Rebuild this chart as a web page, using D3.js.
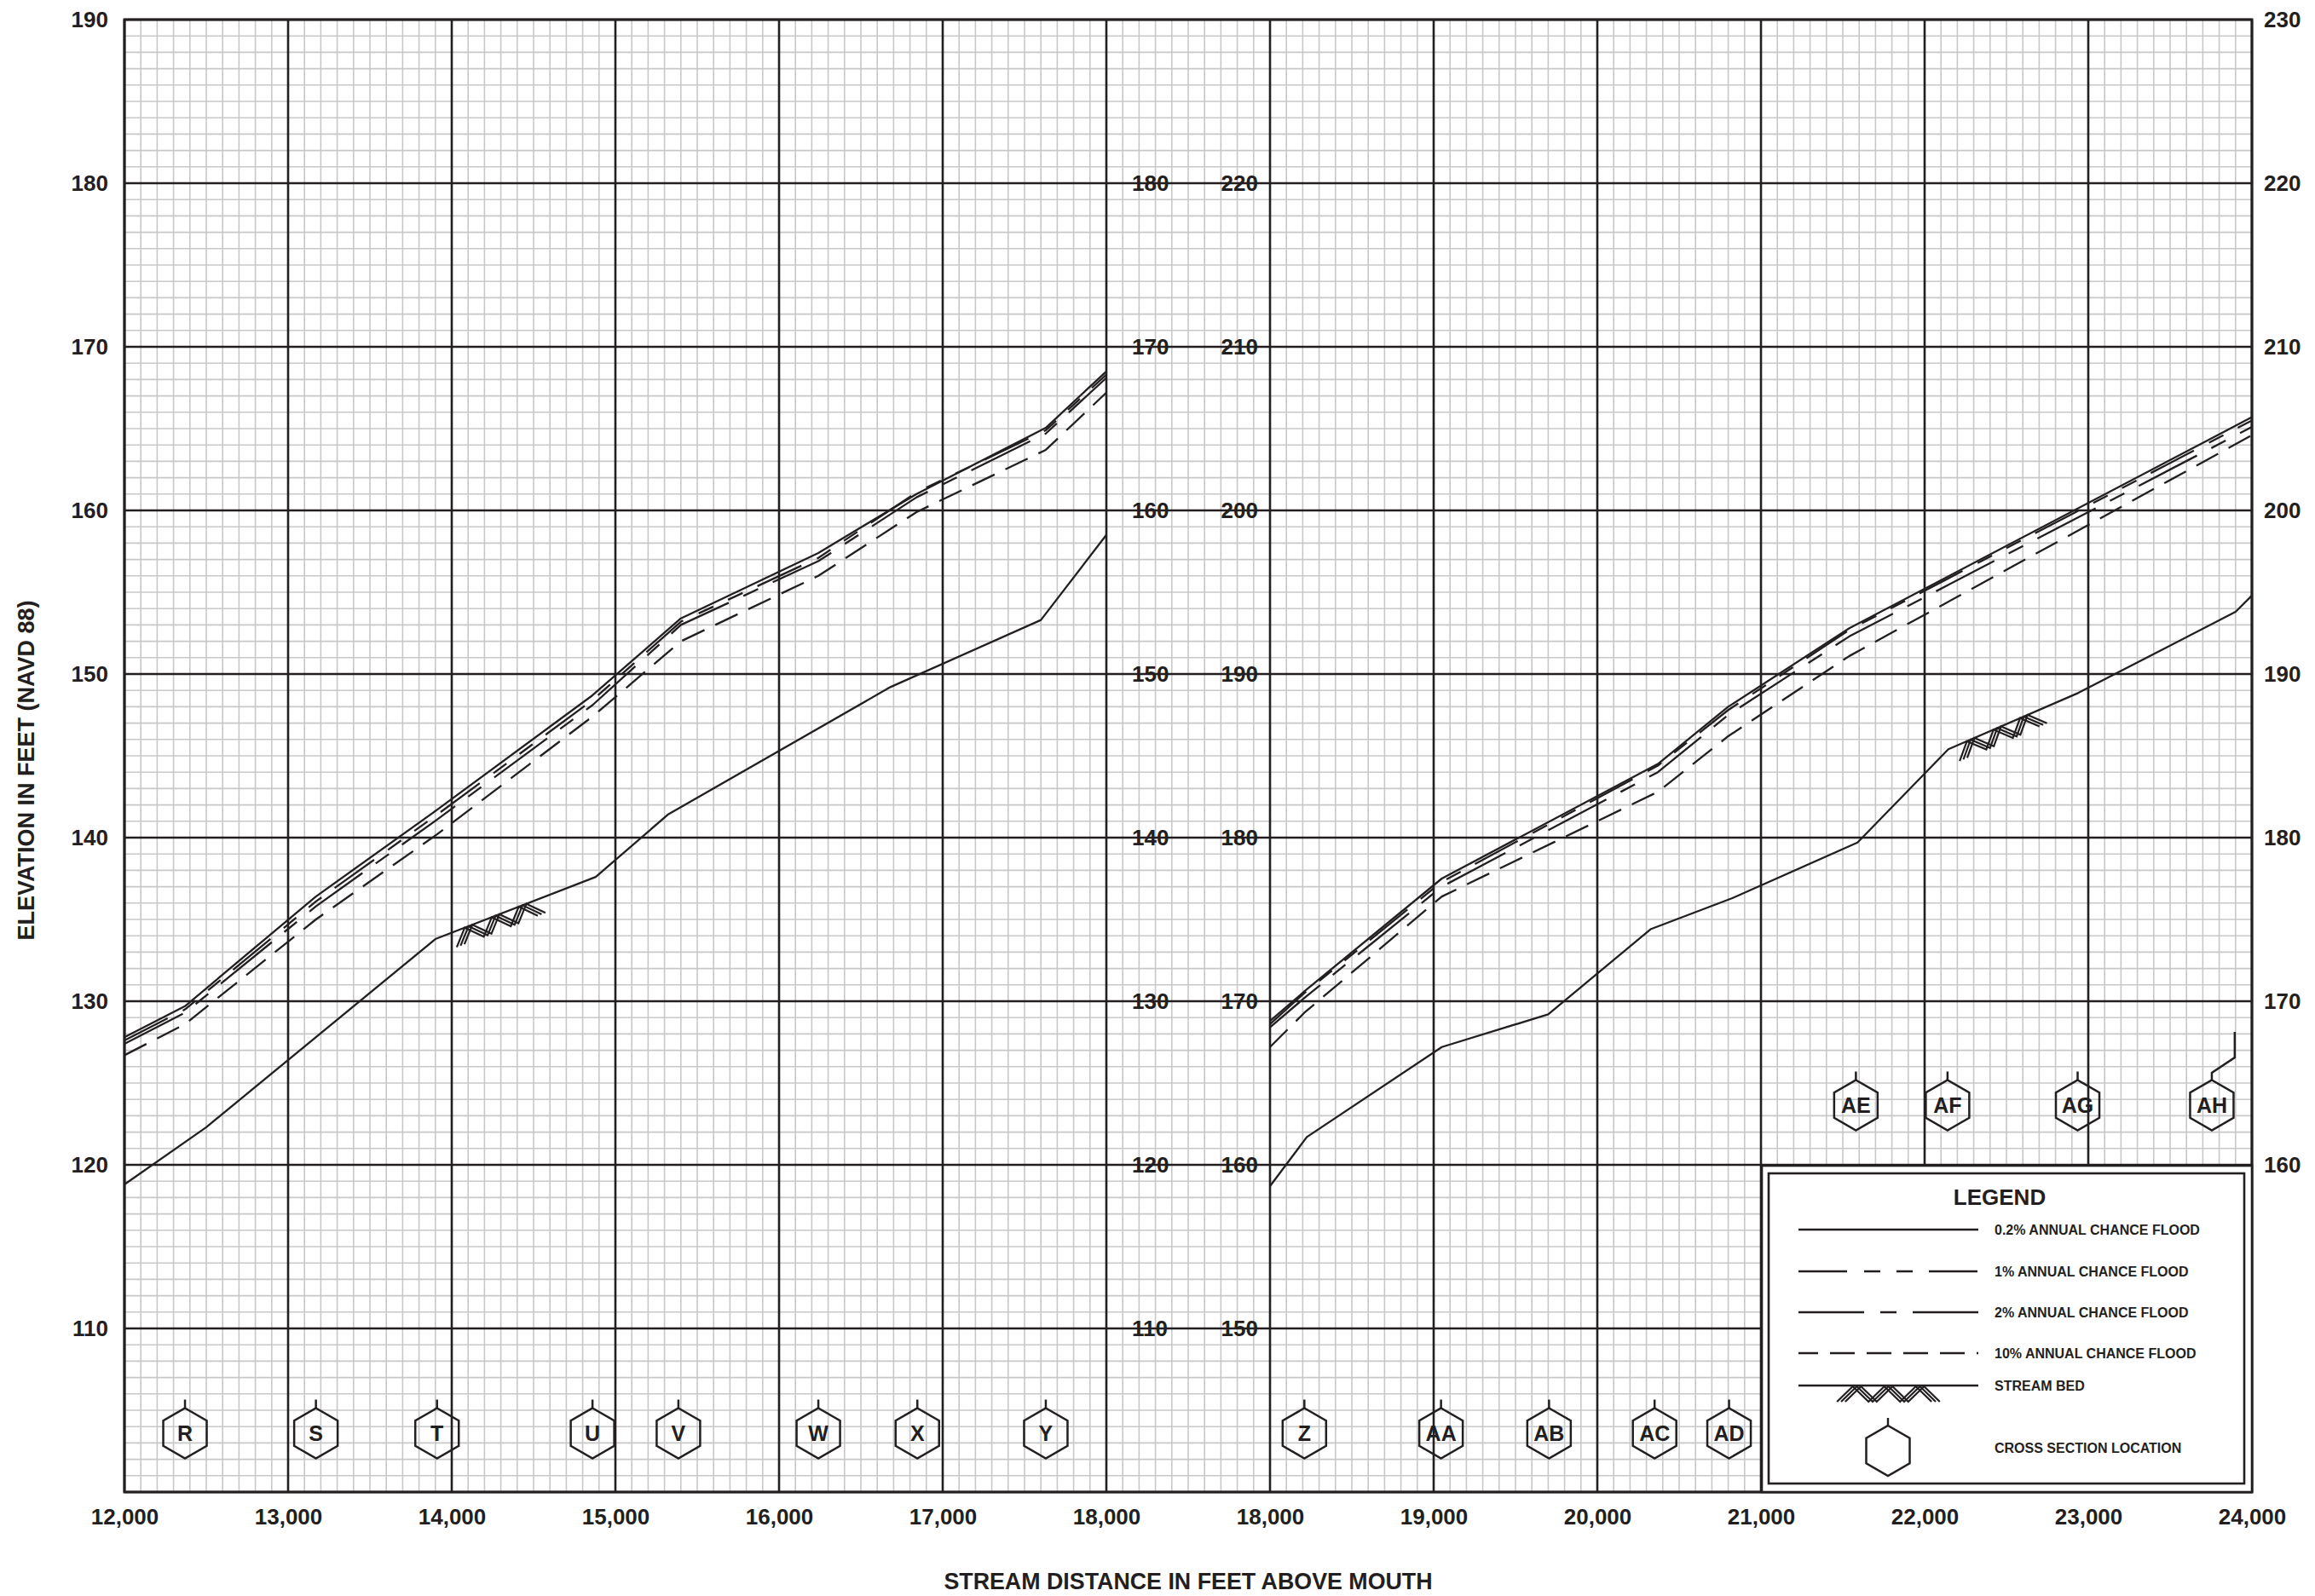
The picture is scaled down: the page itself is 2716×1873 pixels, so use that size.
<!DOCTYPE html>
<html><head><meta charset="utf-8">
<script src="https://cdn.jsdelivr.net/npm/d3@7"></script>
<style>
body{margin:0;background:#fff;}
svg text{font-family:"Liberation Sans",Arial,sans-serif;font-weight:bold;fill:#231f20;}
</style></head><body>
<svg id="chart" width="2716" height="1873"></svg>
<script>
// ---------------- DATA ----------------
// Left panel (stream distance 12,000 - 18,000 ft)
const leftFloodDist = [12000, 12370, 13170, 13910, 14860, 15400, 16240, 16840, 17630, 18000];
const leftFlood02   = [127.8, 129.7, 136.4, 141.7, 148.7, 153.4, 157.4, 161.0, 165.05, 168.5];
const leftFlood1    = [127.6, 129.5, 136.1, 141.4, 148.4, 153.2, 157.1, 161.1, 164.9, 168.3];
const leftFlood2    = [127.4, 129.3, 135.8, 141.1, 148.1, 153.0, 156.9, 160.8, 164.7, 168.1];
const leftFlood10   = [126.7, 128.6, 135.0, 140.2, 147.4, 152.0, 156.0, 159.9, 163.7, 167.2];
const leftBedDist   = [12000, 12500, 13900, 14880, 15320, 16680, 17600, 18000];
const leftBed       = [118.8, 122.3, 133.8, 137.6, 141.4, 149.2, 153.3, 158.5];
// Right panel (stream distance 18,000 - 24,000 ft)
const rightFloodDist = [18000, 18210, 19050, 20370, 20800, 21540, 24000];
const rightFlood02   = [168.8, 170.6, 177.5, 184.5, 188.0, 192.8, 205.7];
const rightFlood1    = [168.6, 170.5, 177.3, 184.4, 187.8, 192.7, 205.5];
const rightFlood2    = [168.4, 170.2, 177.0, 184.0, 187.5, 192.3, 205.1];
const rightFlood10   = [167.2, 169.3, 176.4, 182.8, 186.2, 191.1, 204.6];
const rightBedDist   = [18000, 18225, 19050, 19700, 20325, 20825, 21590, 22145, 22940, 23900, 24000];
const rightBed       = [158.7, 161.7, 167.2, 169.2, 174.4, 176.3, 179.7, 185.4, 188.85, 193.8, 194.8];
// Cross sections
const sectionLetters = ['R','S','T','U','V','W','X','Y','Z','AA','AB','AC','AD','AE','AF','AG','AH'];
const sectionDist    = [12370,13170,13910,14860,15385,16240,16845,17630,18210,19045,19705,20350,20805,21580,22140,22935,23755];
const sectionTickDist= [12370,13170,13910,14860,15385,16240,16845,17630,18210,19045,19705,20350,20805,21580,22140,22935,23895];
const sectionRow     = [0,0,0,0,0,0,0,0,0,0,0,0,0,1,1,1,1];
// Stream-bed hatch locations
const hatchLeftDist = [14020];
const hatchRightDist = [22200];
// Tick labels
const leftXTicks  = [12000,13000,14000,15000,16000,17000,18000];
const rightXTicks = [18000,19000,20000,21000,22000,23000,24000];
const leftYOuter  = [110,120,130,140,150,160,170,180,190];
const leftYInner  = [110,120,130,140,150,160,170,180];
const rightYInner = [150,160,170,180,190,200,210,220];
const rightYOuter = [160,170,180,190,200,210,220,230];
// Legend
const legendLabels = ['0.2% ANNUAL CHANCE FLOOD','1% ANNUAL CHANCE FLOOD','2% ANNUAL CHANCE FLOOD','10% ANNUAL CHANCE FLOOD','STREAM BED','CROSS SECTION LOCATION'];

// ---------------- DRAW ----------------
const INK = '#231f20', GRID = '#c8c8c8';
const svg = d3.select('#chart');
const X0 = 146, X1 = 2642, Y0 = 23, Y1 = 1751;
const xL = d3.scaleLinear().domain([12000,18000]).range([146,1298]);
const xR = d3.scaleLinear().domain([18000,24000]).range([1490,2642]);
const yL = d3.scaleLinear().domain([100,190]).range([Y1,Y0]);
const yR = d3.scaleLinear().domain([140,230]).range([Y1,Y0]);
const xG = d3.scaleLinear().domain([0,130]).range([X0,X1]);
const yG = d3.scaleLinear().domain([0,90]).range([Y1,Y0]);

svg.append('rect').attr('width',2716).attr('height',1873).attr('fill','#fff');

// grid
const grid = svg.append('g');
const minorX = d3.range(0,131).filter(v=>v%10!==0);
const minorY = d3.range(0,91).filter(v=>v%10!==0);
grid.selectAll('.mx').data(minorX).join('line')
  .attr('x1',d=>xG(d)).attr('x2',d=>xG(d)).attr('y1',Y0).attr('y2',Y1)
  .attr('stroke',GRID).attr('stroke-width',1.6);
grid.selectAll('.my').data(minorY).join('line')
  .attr('y1',d=>yG(d)).attr('y2',d=>yG(d)).attr('x1',X0).attr('x2',X1)
  .attr('stroke',GRID).attr('stroke-width',1.6);
const majorX = d3.range(0,131,10), majorY = d3.range(0,91,10);
grid.selectAll('.Mx').data(majorX).join('line')
  .attr('x1',d=>xG(d)).attr('x2',d=>xG(d)).attr('y1',Y0).attr('y2',Y1)
  .attr('stroke',INK).attr('stroke-width',2.6);
grid.selectAll('.My').data(majorY).join('line')
  .attr('y1',d=>yG(d)).attr('y2',d=>yG(d)).attr('x1',X0).attr('x2',X1)
  .attr('stroke',INK).attr('stroke-width',2.6);
svg.append('rect').attr('x',X0).attr('y',Y0).attr('width',X1-X0).attr('height',Y1-Y0)
  .attr('fill','none').attr('stroke',INK).attr('stroke-width',3);

// series
const DASH = {p02:null, p1:'57,20,19,19,19,19', p2:'77,19,19,19', p10:'29,14', bed:null};
function drawSeries(xs, ys, dist, vals, dash){
  const line = d3.line().x(d=>xs(d[0])).y(d=>ys(d[1]));
  svg.append('path').datum(d3.zip(dist, vals)).attr('d', line)
    .attr('fill','none').attr('stroke',INK).attr('stroke-width',2.3)
    .attr('stroke-linejoin','round')
    .attr('stroke-dasharray', dash);
}
drawSeries(xL,yL,leftFloodDist,leftFlood10,DASH.p10);
drawSeries(xL,yL,leftFloodDist,leftFlood2,DASH.p2);
drawSeries(xL,yL,leftFloodDist,leftFlood1,DASH.p1);
drawSeries(xL,yL,leftFloodDist,leftFlood02,DASH.p02);
drawSeries(xL,yL,leftBedDist,leftBed,DASH.bed);
drawSeries(xR,yR,rightFloodDist,rightFlood10,DASH.p10);
drawSeries(xR,yR,rightFloodDist,rightFlood2,DASH.p2);
drawSeries(xR,yR,rightFloodDist,rightFlood1,DASH.p1);
drawSeries(xR,yR,rightFloodDist,rightFlood02,DASH.p02);
drawSeries(xR,yR,rightBedDist,rightBed,DASH.bed);

// hatch
function hatchAt(parent, x0, y0, ang, n, w, h){
  const g = parent.append('g').attr('transform',`translate(${x0},${y0}) rotate(${ang})`);
  [0,4.8,9.6].forEach(s=>{
    const pts=[];
    for(let i=0;i<=2*n;i++) pts.push([s + i*w/2 - 4.8, i%2===0 ? h : 0]);
    g.append('polyline').attr('points', pts.map(p=>p.join(',')).join(' '))
      .attr('fill','none').attr('stroke',INK).attr('stroke-width',2.2);
  });
}
function bedHatch(xs, ys, dist, vals, d0){
  let i = d3.bisectRight(dist, d0) - 1;
  const a=[xs(dist[i]),ys(vals[i])], b=[xs(dist[i+1]),ys(vals[i+1])];
  const t=(d0-dist[i])/(dist[i+1]-dist[i]);
  const p=[a[0]+(b[0]-a[0])*t, a[1]+(b[1]-a[1])*t];
  const ang=Math.atan2(b[1]-a[1], b[0]-a[0])*180/Math.PI;
  hatchAt(svg, p[0], p[1], ang, 3, 34, 18);
}
hatchLeftDist.forEach(d=>bedHatch(xL,yL,leftBedDist,leftBed,d));
hatchRightDist.forEach(d=>bedHatch(xR,yR,rightBedDist,rightBed,d));

// cross-section hexagons
const HEX = [[0,-29.5],[25.5,-14.75],[25.5,14.75],[0,29.5],[-25.5,14.75],[-25.5,-14.75]];
function hexagon(g, cx, cy){
  g.append('polygon').attr('points', HEX.map(p=>[cx+p[0],cy+p[1]].join(',')).join(' '))
    .attr('fill','none').attr('stroke',INK).attr('stroke-width',2.5);
}
const rowY=[1682,1297];
sectionLetters.forEach((lab,i)=>{
  const d=sectionDist[i];
  const xs = d<18000 ? xL : xR;
  const cx = xs(d), cy=rowY[sectionRow[i]];
  hexagon(svg,cx,cy);
  const tx = xs(sectionTickDist[i]);
  if(Math.abs(tx-cx)<1){
    svg.append('line').attr('x1',cx).attr('x2',cx).attr('y1',cy-29.5).attr('y2',cy-39.5)
      .attr('stroke',INK).attr('stroke-width',2.5);
  } else {
    svg.append('polyline').attr('points',`${cx},${cy-29.5} ${cx},${cy-38} ${tx},${cy-56} ${tx},${cy-86}`)
      .attr('fill','none').attr('stroke',INK).attr('stroke-width',2.5);
  }
  svg.append('text').attr('x',cx).attr('y',cy).attr('dy','0.36em').attr('text-anchor','middle')
    .attr('font-size',25).text(lab);
});

// axes
function styleAxis(g){
  g.select('.domain').remove();
  g.selectAll('line').remove();
  g.attr('font-family',null).attr('font-size',26);
  g.selectAll('text').attr('fill',INK).style('font-size','26px');
}
svg.append('g').attr('transform',`translate(${X0},0)`)
  .call(d3.axisLeft(yL).tickValues(leftYOuter).tickSize(0).tickPadding(19)).call(styleAxis);
svg.append('g').attr('transform',`translate(1298,0)`)
  .call(d3.axisRight(yL).tickValues(leftYInner).tickSize(0).tickPadding(30)).call(styleAxis);
svg.append('g').attr('transform',`translate(1490,0)`)
  .call(d3.axisLeft(yR).tickValues(rightYInner).tickSize(0).tickPadding(14)).call(styleAxis);
svg.append('g').attr('transform',`translate(${X1},0)`)
  .call(d3.axisRight(yR).tickValues(rightYOuter).tickSize(0).tickPadding(14)).call(styleAxis);
svg.append('g').attr('transform',`translate(0,${Y1})`)
  .call(d3.axisBottom(xL).tickValues(leftXTicks).tickFormat(d3.format(',')).tickSize(0).tickPadding(20)).call(styleAxis);
svg.append('g').attr('transform',`translate(0,${Y1})`)
  .call(d3.axisBottom(xR).tickValues(rightXTicks).tickFormat(d3.format(',')).tickSize(0).tickPadding(20)).call(styleAxis);

// titles
svg.append('text').attr('transform','translate(30,904) rotate(-90)').attr('dy','0.36em')
  .attr('text-anchor','middle').attr('font-size',27).text('ELEVATION IN FEET (NAVD 88)');
svg.append('text').attr('x',(X0+X1)/2).attr('y',1865).attr('text-anchor','middle')
  .attr('font-size',26.8).text('STREAM DISTANCE IN FEET ABOVE MOUTH');

// legend
const lg = svg.append('g');
lg.append('rect').attr('x',2067).attr('y',1368).attr('width',X1-2067).attr('height',Y1-1368)
  .attr('fill','#fff').attr('stroke',INK).attr('stroke-width',2.6);
lg.append('rect').attr('x',2075).attr('y',1377).attr('width',2633-2075).attr('height',1741-1377)
  .attr('fill','none').attr('stroke',INK).attr('stroke-width',2.6);
lg.append('text').attr('x',2346).attr('y',1414).attr('text-anchor','middle').attr('font-size',26).text('LEGEND');
const rowsY=[1443,1492,1540,1588,1626,1699];
const rowDash=[DASH.p02,DASH.p1,DASH.p2,DASH.p10,DASH.bed];
rowDash.forEach((ds,i)=>{
  lg.append('line').attr('x1',2110).attr('x2',2321).attr('y1',rowsY[i]).attr('y2',rowsY[i])
    .attr('stroke',INK).attr('stroke-width',2.4).attr('stroke-dasharray',ds)
    .attr('stroke-dashoffset', i===3 ? 6 : 0);
});
hatchAt(lg, 2160, 1627, 0, 3, 37, 18);
hexagon(lg, 2215, 1702.5);
lg.append('line').attr('x1',2215).attr('x2',2215).attr('y1',1673).attr('y2',1664)
  .attr('stroke',INK).attr('stroke-width',2.4);
legendLabels.forEach((t,i)=>{
  lg.append('text').attr('x',2340).attr('y',rowsY[i]).attr('dy','0.36em').attr('font-size',16).text(t);
});
</script></body></html>
